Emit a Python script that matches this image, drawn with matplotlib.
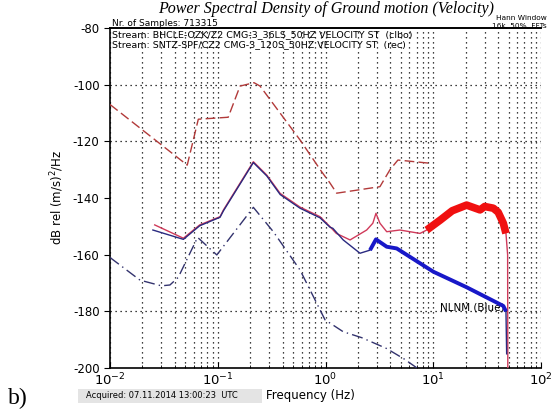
import matplotlib
matplotlib.use("Agg")
import matplotlib.pyplot as plt
from matplotlib.patches import Rectangle
import numpy as np

# ---- data ----
nhnm_f = [0.01, 0.0521, 0.066, 0.125, 0.161, 0.217, 0.247, 0.58, 0.92, 1.10, 1.27, 3.2, 3.97, 4.7, 9.7]
nhnm_db = [-107.0, -128.4, -112.2, -111.5, -100.5, -99.3, -100.5, -119.5, -130.7, -134.7, -138.3, -136.0, -130.0, -126.6, -127.8]

nlnm_f = [0.01, 0.019, 0.030, 0.036, 0.043, 0.065, 0.098, 0.214, 0.328, 0.58, 0.72, 0.99, 1.46, 2.17, 3.68, 5.36, 7.07]
nlnm_db = [-161.0, -169.0, -171.0, -170.7, -168.0, -153.9, -160.1, -143.3, -151.9, -165.4, -172.5, -183.0, -187.2, -189.3, -193.1, -196.8, -200.0]

red_f = [0.026, 0.048, 0.068, 0.105, 0.113, 0.214, 0.285, 0.38, 0.58, 0.89, 1.10, 1.26, 1.69, 2.41, 2.75, 2.94, 3.2, 3.70, 4.9, 6.08, 7.53, 8.7, 11.6, 15.0, 20.4, 27.2, 30.0, 36.1, 40.0, 44.7, 47.3, 49.0, 49.2]
red_db = [-149.5, -154.2, -149.5, -146.6, -144.2, -127.2, -131.9, -138.4, -143.2, -146.6, -150.1, -152.5, -154.8, -151.3, -148.9, -145.4, -148.9, -151.9, -151.3, -151.9, -152.5, -151.3, -147.8, -144.5, -142.5, -144.2, -143.0, -143.6, -145.0, -148.9, -152.5, -160.0, -200.0]

blue_f = [0.025, 0.048, 0.068, 0.105, 0.113, 0.214, 0.285, 0.38, 0.58, 0.89, 1.10, 1.17, 1.46, 2.09, 2.59, 2.94, 3.70, 4.58, 10.0, 20.4, 44.7, 47.3, 48.0]
blue_db = [-151.3, -154.6, -149.8, -146.8, -144.5, -127.5, -132.2, -138.8, -143.6, -147.0, -150.3, -150.7, -154.8, -159.5, -158.4, -154.6, -157.2, -157.8, -166.0, -171.5, -178.1, -180.0, -195.0]

yticks = [-80, -100, -120, -140, -160, -180, -200]
xticks = [0.01, 0.1, 1, 10, 100]
xticklabels = ["$10^{-2}$", "$10^{-1}$", "$10^{0}$", "$10^{1}$", "$10^{2}$"]

W, H = 553, 417
fig = plt.figure(figsize=(W / 100, H / 100), dpi=100)
ax = fig.add_axes([110 / W, 1 - 368 / H, (541 - 110) / W, (368 - 28) / H])

ax.set_xscale("log")
ax.set_xlim(0.01, 100)
ax.set_ylim(-200, -80)
ax.set_yticks(yticks)
ax.set_yticklabels([str(v) for v in yticks])
ax.set_xticks(xticks)
ax.set_xticklabels(xticklabels)

# grid (horizontal dotted lines only visible at -100, -120, -180 in the reference)
ax.grid(True, which="both", axis="x", linestyle=(0, (1, 3)), color="black", linewidth=0.9)
ax.grid(True, which="major", axis="y", linestyle=(0, (1, 3)), color="black", linewidth=0.9)
for gl, v in zip(ax.get_ygridlines(), yticks):
    if v in (-140, -160, -80, -200):
        gl.set_visible(False)

# noise models
ax.plot(nhnm_f, nhnm_db, color="#b23a3a", linestyle=(0, (7, 3)), linewidth=1.0, zorder=3)
ax.plot(nlnm_f, nlnm_db, color="#33336e", linestyle=(0, (8, 3, 1, 3)), linewidth=1.0, zorder=3)

# spectra: thin at low frequency, thick (noisy band) at high frequency
rf = np.array(red_f); rd = np.array(red_db)
bf = np.array(blue_f); bd = np.array(blue_db)
ax.plot(rf, rd, color="#d03a5a", linewidth=1.0, zorder=4)
m = (rf >= 8.0) & (rf <= 47.3)
ax.plot(rf[m], rd[m], color="#f01010", linewidth=5.5, solid_capstyle="butt", zorder=5)
ax.plot(bf, bd, color="#2a2a80", linewidth=1.0, zorder=5)
mb = (bf >= 2.5) & (bf <= 47.3)
ax.plot(bf[mb], bd[mb], color="#1818c8", linewidth=2.8, solid_capstyle="butt", zorder=6)

# axes styling
ax.spines["right"].set_visible(False)
ax.spines["top"].set_linewidth(1.4)
ax.spines["left"].set_linewidth(1.2)
ax.spines["bottom"].set_linewidth(1.2)
ax.tick_params(axis="y", direction="out", length=4, labelsize=8.5, right=False)
ax.tick_params(axis="x", which="both", direction="in", labelsize=9.5, top=False, pad=3)
ax.tick_params(axis="x", which="major", length=4)
ax.tick_params(axis="x", which="minor", length=2)

ax.set_ylabel("dB rel (m/s)$^2$/Hz", fontsize=8.5, labelpad=5)

# texts
fig.text(326 / W, 1 - 9 / H, "Power Spectral Density of Ground motion (Velocity)",
         ha="center", va="center", fontsize=11.5, style="italic", family="Liberation Serif")
fig.text(112 / W, 1 - 24 / H, "Nr. of Samples: 713315", ha="left", va="center", fontsize=6.5)
fig.text(547 / W, 1 - 18.5 / H, "Hann Window", ha="right", va="center", fontsize=5.3)
fig.text(547 / W, 1 - 26.0 / H, "16k, 50%, FFTs", ha="right", va="center", fontsize=5.3)
fig.text(112 / W, 1 - 35 / H, "Stream: BHCLE-OZK/Z2 CMG-3_36LS_50HZ VELOCITY ST  (clbo)",
         ha="left", va="center", fontsize=6.8)
fig.text(112 / W, 1 - 45 / H, "Stream: SNTZ-SPF/CZ2 CMG-3_120S_50HZ VELOCITY ST  (rec)",
         ha="left", va="center", fontsize=6.8)
ax.text(11.5, -178.5, "NLNM (Blue)", ha="left", va="center", fontsize=7.5)

fig.patches.append(Rectangle((78 / W, 1 - 403 / H), (262 - 78) / W, 14 / H,
                             transform=fig.transFigure, facecolor="#e4e4e4", edgecolor="none"))
fig.text(86 / W, 1 - 396 / H, "Acquired: 07.11.2014 13:00:23  UTC", ha="left", va="center", fontsize=6)
fig.text(310 / W, 1 - 396 / H, "Frequency (Hz)", ha="center", va="center", fontsize=8.5)
fig.text(8 / W, 1 - 398 / H, "b)", ha="left", va="center", fontsize=17, family="Liberation Serif")

fig.savefig("out.png", dpi=100)
